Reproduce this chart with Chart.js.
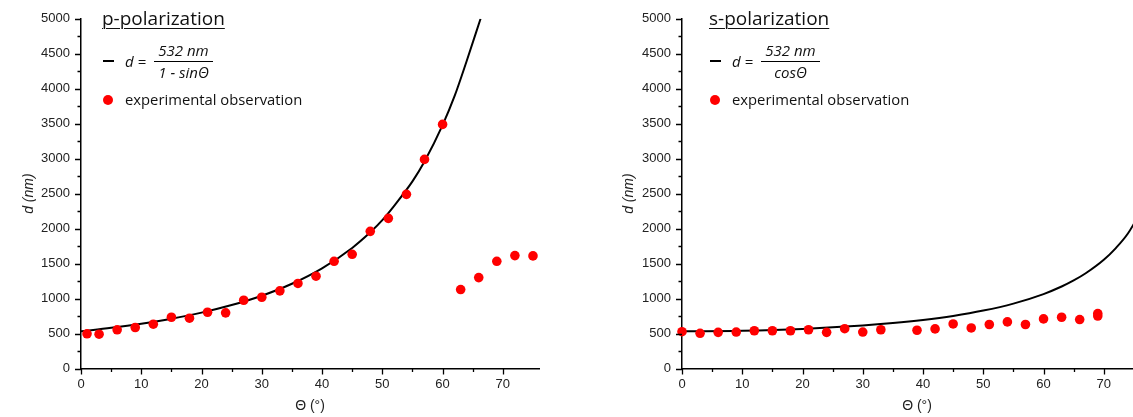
<!DOCTYPE html>
<html lang="en">
<head>
    <meta charset="UTF-8">
    <title>p- and s-polarization</title>
    <script src="https://cdn.jsdelivr.net/npm/chart.js"></script>
    <style>
        html, body {
            margin: 0;
            padding: 0;
            width: 1133px;
            height: 417px;
            overflow: hidden;
            background: #fff;
        }

        #leftChart, #rightChart {
            position: absolute;
            top: 0;
        }

        #leftChart { left: 0; }
        #rightChart { left: 600px; }

        .legend {
            position: absolute;
            top: 0;
            width: 240px;
            height: 120px;
            font-family: "Open Sans", sans-serif;
            color: #111;
        }

        .legend .title {
            position: absolute;
            left: 0;
            top: 5px;
            font-size: 19px;
            text-decoration: underline;
            text-decoration-thickness: 1px;
            text-underline-offset: 3px;
            white-space: nowrap;
        }

        .legend .dash {
            position: absolute;
            left: 1px;
            top: 60px;
            width: 11px;
            height: 2px;
            background: #000;
        }

        .legend .eq {
            position: absolute;
            left: 23px;
            top: 51px;
            font-size: 15px;
            font-style: italic;
            line-height: 20px;
        }

        .legend .frac {
            position: absolute;
            left: 52px;
            top: 40px;
            width: 59px;
            font-size: 15px;
            font-style: italic;
            text-align: center;
            line-height: 20px;
        }

        .legend .frac .num {
            border-bottom: 1.2px solid #000;
            padding-bottom: 1px;
        }

        .legend .dot {
            position: absolute;
            left: 1px;
            top: 95px;
            width: 10px;
            height: 10px;
            border-radius: 50%;
            background: #ff0000;
        }

        .legend .obs {
            position: absolute;
            left: 23px;
            top: 89px;
            font-size: 14.8px;
            line-height: 20px;
            white-space: nowrap;
        }
    </style>
</head>
<body>
    <canvas id="leftChart" width="560" height="417"></canvas>
    <canvas id="rightChart" width="560" height="417"></canvas>

    <div class="legend" style="left: 102px;">
        <div class="title">p-polarization</div>
        <div class="dash"></div>
        <div class="eq">d =</div>
        <div class="frac"><div class="num">532 nm</div><div>1 - sinΘ</div></div>
        <div class="dot"></div>
        <div class="obs">experimental observation</div>
    </div>

    <div class="legend" style="left: 709px;">
        <div class="title">s-polarization</div>
        <div class="dash"></div>
        <div class="eq">d =</div>
        <div class="frac"><div class="num">532 nm</div><div>cosΘ</div></div>
        <div class="dot"></div>
        <div class="obs">experimental observation</div>
    </div>

    <script>
        // p-polarization: measured points
        const pAngles = [1, 3, 6, 9, 12, 15, 18, 21, 24, 27, 30, 33, 36, 39, 42, 45, 48, 51, 54, 57, 60, 63, 66, 69, 72, 75];
        const pObserved = [496, 490, 553, 586, 633, 733, 719, 804, 796, 976, 1019, 1110, 1216, 1320, 1533, 1633, 1961, 2147, 2490, 2990, 3490, 1129, 1300, 1533, 1614, 1610];

        // p-polarization: curve
        const pCurveAngles = [0, 5, 10, 15, 20, 25, 30, 35, 40, 45, 48, 50, 52, 55, 57, 60, 62, 64, 66.3];
        const pCurveValues = [532, 582, 641, 712, 799, 907, 1041, 1212, 1433, 1724, 1947, 2121, 2330, 2675, 2960, 3480, 3897, 4397, 5000];

        // s-polarization: measured points (two readings at 69)
        const sAngles = [0, 3, 6, 9, 12, 15, 18, 21, 24, 27, 30, 33, 39, 42, 45, 48, 51, 54, 57, 60, 63, 66, 69, 69];
        const sObserved = [526, 503, 517, 521, 540, 540, 540, 554, 517, 569, 521, 554, 547, 566, 637, 580, 629, 666, 629, 709, 733, 700, 786, 750];

        // s-polarization: curve
        const sCurveAngles = [0, 10, 20, 30, 35, 40, 45, 50, 55, 60, 63, 65, 67, 70, 72, 74, 76, 78];
        const sCurveValues = [532, 540, 566, 614, 649, 694, 752, 828, 928, 1064, 1172, 1259, 1362, 1555, 1722, 1930, 2224, 2559];

        const yMax = 5000;
        const yStep = 250;
        const xStep = 5;

        const tickFont = { family: "'Liberation Sans', Arial, sans-serif", size: 13 };

        // major / minor tick marks drawn outside the axes
        const minorTicks = {
            id: 'minorTicks',
            afterDraw(chart) {
                const ctx = chart.ctx;
                const xs = chart.scales.x;
                const ys = chart.scales.y;
                ctx.save();
                ctx.strokeStyle = '#000';
                ctx.lineWidth = 1.3;
                ctx.beginPath();
                xs.ticks.forEach(t => {
                    if (t.value % xStep !== 0) return;
                    const px = Math.round(xs.getPixelForValue(t.value)) + 0.5;
                    const len = t.value % (xStep * 2) === 0 ? 6 : 3.5;
                    ctx.moveTo(px, ys.bottom);
                    ctx.lineTo(px, ys.bottom + len);
                });
                ys.ticks.forEach(t => {
                    if (t.value % yStep !== 0) return;
                    const py = Math.round(ys.getPixelForValue(t.value)) + 0.5;
                    const len = t.value % (yStep * 2) === 0 ? 6 : 3.5;
                    ctx.moveTo(xs.left, py);
                    ctx.lineTo(xs.left - len, py);
                });
                ctx.stroke();
                ctx.restore();
            }
        };

        function drawPanel(id, angles, observed, curveX, curveY, xMax, yWidth, rightPad) {
            const ctx = document.getElementById(id).getContext('2d');
            new Chart(ctx, {
                type: 'scatter',
                data: {
                    datasets: [{
                        data: angles.map((a, i) => ({ x: a, y: observed[i] })),
                        backgroundColor: '#ff0000',
                        borderWidth: 0,
                        pointRadius: 4.8,
                        clip: false
                    }, {
                        data: curveX.map((a, i) => ({ x: a, y: curveY[i] })),
                        showLine: true,
                        borderColor: '#000',
                        borderWidth: 2,
                        pointRadius: 0,
                        cubicInterpolationMode: 'monotone'
                    }]
                },
                options: {
                    responsive: false,
                    animation: false,
                    layout: { padding: { top: 18, right: rightPad, left: 0, bottom: 0 } },
                    plugins: { legend: { display: false }, tooltip: { enabled: false } },
                    scales: {
                        x: {
                            type: 'linear',
                            min: 0,
                            max: xMax,
                            afterFit(s) { s.height = 48.5; },
                            grid: { drawOnChartArea: false, drawTicks: false },
                            border: { display: true, color: '#000', width: 1.5 },
                            ticks: {
                                stepSize: xStep,
                                autoSkip: false,
                                maxRotation: 0,
                                padding: 8,
                                color: '#222',
                                font: tickFont,
                                callback: v => (v % (xStep * 2) === 0 ? v : '')
                            },
                            title: {
                                display: true,
                                text: 'Θ (°)',
                                color: '#222',
                                font: { family: "'Liberation Sans', Arial, sans-serif", size: 14 },
                                padding: { top: 0, bottom: 2 }
                            }
                        },
                        y: {
                            min: 0,
                            max: yMax,
                            afterFit(s) { s.width = yWidth; },
                            grid: { drawOnChartArea: false, drawTicks: false },
                            border: { display: true, color: '#000', width: 1.5 },
                            ticks: {
                                stepSize: yStep,
                                autoSkip: false,
                                padding: 11,
                                color: '#222',
                                font: tickFont,
                                callback: v => (v % (yStep * 2) === 0 ? v : '')
                            },
                            title: {
                                display: true,
                                text: 'd (nm)',
                                color: '#222',
                                font: { family: "'Liberation Sans', Arial, sans-serif", size: 14, style: 'italic' },
                                padding: { top: 21, bottom: 0 }
                            }
                        }
                    }
                },
                plugins: [minorTicks]
            });
        }

        document.addEventListener('DOMContentLoaded', () => {
            drawPanel('leftChart', pAngles, pObserved, pCurveAngles, pCurveValues, 76, 81, 21);
            drawPanel('rightChart', sAngles, sObserved, sCurveAngles, sCurveValues, 78, 82, 0);
        });
    </script>
</body>
</html>
